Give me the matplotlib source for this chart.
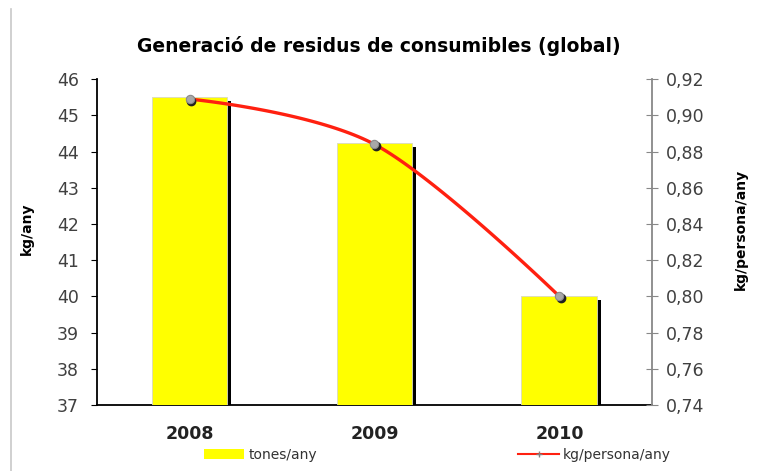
import numpy as np
import matplotlib.pyplot as plt
from matplotlib.patches import Patch
from matplotlib.lines import Line2D
from matplotlib.transforms import offset_copy

# data
years = ['2008', '2009', '2010']
tones_any = [45.5, 44.23, 40.0]
kg_persona_any = [0.909, 0.884, 0.80]

left_ticks = list(range(37, 47))
right_ticks = [0.74, 0.76, 0.78, 0.80, 0.82, 0.84, 0.86, 0.88, 0.90, 0.92]


def excel_smooth(xs, ys, n=50):
    # bezier smoothing the way Excel does it: inner control points at
    # +/- (P[i+1] - P[i-1]) / 6, end control points on the end points
    P = np.column_stack([xs, ys]).astype(float)
    m = len(P)
    out = []
    for i in range(m - 1):
        p0, p3 = P[i], P[i + 1]
        c1 = p0 + (P[i + 1] - P[i - 1]) / 6 if i > 0 else p0
        c2 = p3 - (P[i + 2] - P[i]) / 6 if i + 2 < m else p3
        t = np.linspace(0, 1, n)[:, None]
        out.append((1 - t) ** 3 * p0 + 3 * (1 - t) ** 2 * t * c1
                   + 3 * (1 - t) * t ** 2 * c2 + t ** 3 * p3)
    out = np.vstack(out)
    return out[:, 0], out[:, 1]


fig = plt.figure(figsize=(7.58, 4.71), dpi=100)
ax = fig.add_axes([0.128, 0.140, 0.732, 0.692])
ax2 = ax.twinx()

x = np.arange(len(years))
w = 0.41

# black shadow behind each bar, then the yellow bar
ax.bar(x + 0.02, np.array(tones_any) - 37.1, width=w, bottom=37,
       color='black', zorder=2)
ax.bar(x, np.array(tones_any) - 37, width=w, bottom=37, color='#ffff00',
       edgecolor='#d8d8c0', linewidth=0.6, zorder=3)

ax.set_xlim(-0.5, 2.5)
ax.set_ylim(37, 46)
ax.set_yticks(left_ticks)
ax.set_xticks(x)
ax.set_xticklabels(years, fontsize=12.5, fontweight='bold', color='#222222')
ax.tick_params(axis='x', length=0, pad=14)
ax.tick_params(axis='y', direction='out', length=4, labelsize=12.5,
               labelcolor='#404040', pad=9)
ax.set_ylabel('kg/any', fontsize=10, fontweight='bold')
ax.yaxis.set_label_coords(-0.113, 0.54)
for s in ['top', 'right']:
    ax.spines[s].set_visible(False)
ax.spines['left'].set_linewidth(1.3)
ax.spines['bottom'].set_linewidth(1.3)

sx, sy = excel_smooth(x, kg_persona_any)
ax2.plot(sx, sy, color='#ff2010', linewidth=2.4, zorder=4)
# dark marker shadow slightly down-right, then the grey marker
shadow = offset_copy(ax2.transData, fig=fig, x=1.0, y=-1.2, units='points')
ax2.plot(x, kg_persona_any, linestyle='none', marker='o', markersize=6,
         color='#202020', transform=shadow, zorder=5)
ax2.plot(x, kg_persona_any, linestyle='none', marker='o', markersize=6,
         markerfacecolor='#a8a8a8', markeredgecolor='#8a8a8a',
         markeredgewidth=0.8, zorder=6)
ax2.set_ylim(0.74, 0.92)
ax2.set_yticks(right_ticks)
ax2.set_yticklabels([f'{v:.2f}'.replace('.', ',') for v in right_ticks])
ax2.tick_params(axis='y', direction='inout', length=8, labelsize=12.5,
                labelcolor='#404040', color='#888888', pad=6)
ax2.set_ylabel('kg/persona/any', fontsize=10, fontweight='bold')
ax2.yaxis.set_label_coords(1.148, 0.54)
for s in ['top', 'left', 'bottom']:
    ax2.spines[s].set_visible(False)
ax2.spines['right'].set_color('#888888')
ax2.spines['right'].set_linewidth(1.3)

fig.text(0.5, 0.902, 'Generació de residus de consumibles (global)',
         ha='center', va='center', fontsize=13.5, fontweight='bold')

# legend below the chart
handles = [Patch(facecolor='#ffff00', edgecolor='none', label='tones/any'),
           Line2D([], [], color='#ff2010', linewidth=1.5, marker='+',
                  markersize=4, markeredgecolor='#808080', label='kg/persona/any')]
fig.legend(handles=handles, loc='center', bbox_to_anchor=(0.577, 0.034),
           ncol=2, frameon=False, fontsize=10, columnspacing=14.5,
           handlelength=2.9, handleheight=0.8, handletextpad=0.3,
           labelcolor='#333333')

# thin grey border line at the left edge of the image
fig.add_artist(Line2D([0.015, 0.015], [0.0, 0.98], color='#c8c8c8',
                      linewidth=1.2, transform=fig.transFigure))

fig.savefig('out.png', dpi=100)
